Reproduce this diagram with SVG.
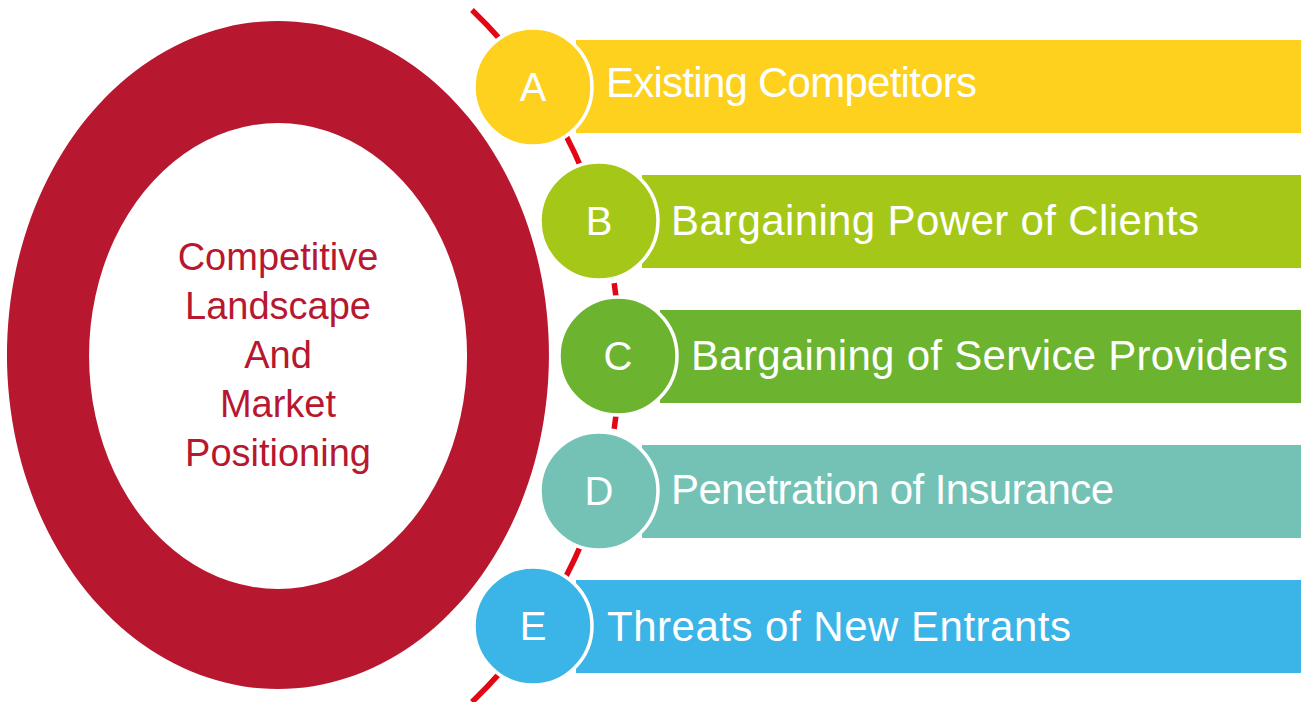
<svg xmlns="http://www.w3.org/2000/svg" width="1301" height="702" viewBox="0 0 1301 702">
<style>
.lbl{font-family:"Liberation Sans",Arial,sans-serif;font-size:42px;fill:#ffffff}
.let{font-family:"Liberation Sans",Arial,sans-serif;font-size:40px;fill:#ffffff;text-anchor:middle}
.ctr{font-family:"Liberation Sans",Arial,sans-serif;font-size:38px;fill:#b7182f;text-anchor:middle}
.dot{stroke:#ffffff;stroke-width:3.5}
</style>
<rect width="1301" height="702" fill="#ffffff"/>
<g id="center">
<path d="M278 21 A271 334 0 1 1 277.9 21 Z M278 123 A189 233 0 1 0 278.1 123 Z" fill="#b7182f" fill-rule="evenodd"/>
<text class="ctr" x="278" y="270">Competitive</text>
<text class="ctr" x="278" y="319">Landscape</text>
<text class="ctr" x="278" y="368">And</text>
<text class="ctr" x="278" y="417">Market</text>
<text class="ctr" x="278" y="466">Positioning</text>
</g>
<g id="connectors">
<path d="M472 10 A479 479 0 0 1 472 702" fill="none" stroke="#e30614" stroke-width="5.5" pathLength="774" stroke-dasharray="41.8 10.5"/>
</g>
<g id="nodeA">
<rect x="576" y="40" width="725" height="93" fill="#fdd11d"/>
<circle class="dot" cx="533" cy="87" r="59" fill="#fdd11d"/>
<text class="let" x="533" y="101">A</text>
<text class="lbl" x="606" y="97" textLength="371">Existing Competitors</text>
</g>
<g id="nodeB">
<rect x="642" y="175" width="659" height="93" fill="#a5c818"/>
<circle class="dot" cx="599" cy="221" r="59" fill="#a5c818"/>
<text class="let" x="599" y="235">B</text>
<text class="lbl" x="671" y="235" textLength="528">Bargaining Power of Clients</text>
</g>
<g id="nodeC">
<rect x="660" y="310" width="641" height="93" fill="#6cb42f"/>
<circle class="dot" cx="618" cy="356" r="59" fill="#6cb42f"/>
<text class="let" x="618" y="370">C</text>
<text class="lbl" x="691" y="370" textLength="597">Bargaining of Service Providers</text>
</g>
<g id="nodeD">
<rect x="642" y="445" width="659" height="93" fill="#73c2b5"/>
<circle class="dot" cx="599" cy="491" r="59" fill="#73c2b5"/>
<text class="let" x="599" y="505">D</text>
<text class="lbl" x="671" y="504" textLength="443">Penetration of Insurance</text>
</g>
<g id="nodeE">
<rect x="576" y="580" width="725" height="93" fill="#3bb4e7"/>
<circle class="dot" cx="533" cy="626" r="59" fill="#3bb4e7"/>
<text class="let" x="533" y="640">E</text>
<text class="lbl" x="607" y="641" textLength="464">Threats of New Entrants</text>
</g>
</svg>
